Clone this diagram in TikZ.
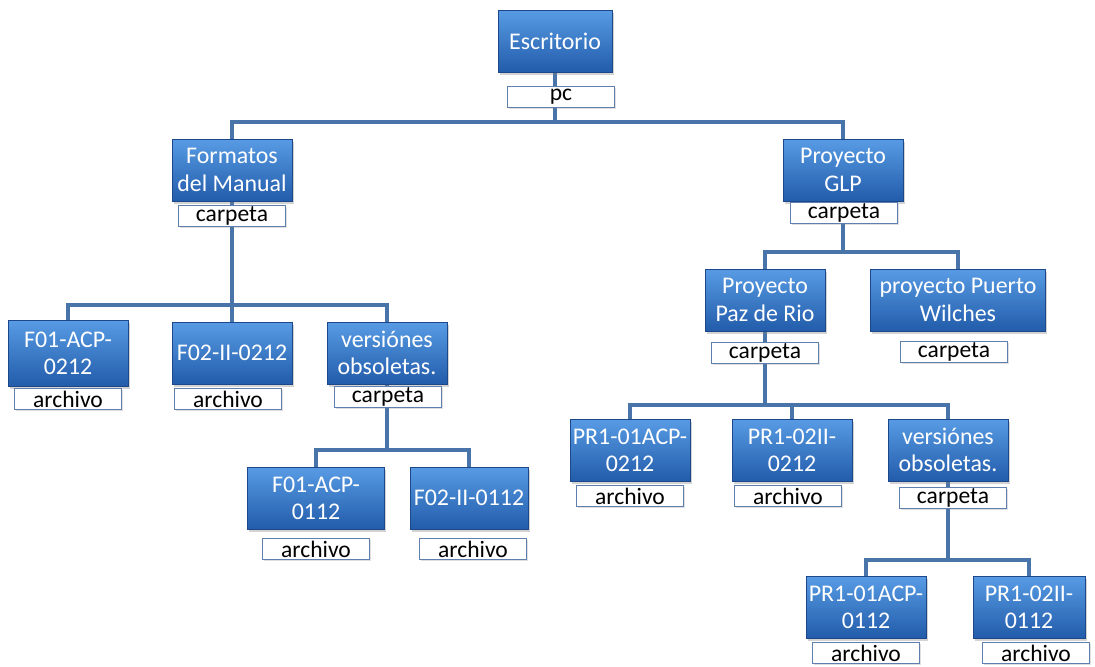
\documentclass[tikz,border=0pt]{standalone}
\usepackage{fontspec}
\setmainfont{Carlito}
\usetikzlibrary{positioning, backgrounds, shadows}
\definecolor{boxtop}{RGB}{88,155,228}
\definecolor{boxbot}{RGB}{34,92,170}
\definecolor{boxedge}{RGB}{28,72,138}
\definecolor{linkblue}{RGB}{72,116,170}
\definecolor{tagedge}{RGB}{95,128,175}

\begin{document}
\begin{tikzpicture}[
  x=0.02cm, y=-0.02cm,
  folder/.style = {
    top color=boxtop, bottom color=boxbot, draw=boxedge, thin,
    minimum width=2.4cm, minimum height=1.24cm, inner sep=1pt,
    align=center, text=white, font=\fontsize{13.6}{15.5}\selectfont,
    drop shadow={opacity=0.35, shadow xshift=1pt, shadow yshift=-1.5pt}
  },
  tag/.style = {
    fill=white, draw=tagedge, semithick,
    minimum width=2.14cm, minimum height=0.42cm, inner sep=0pt,
    font=\fontsize{13.4}{14}\selectfont,
    drop shadow={opacity=0.25, shadow xshift=1pt, shadow yshift=-1pt}
  },
  link/.style = { draw=linkblue, line width=2.3pt }
]
\useasboundingbox (0,0) rectangle (1095,666);

% root
\node[folder, minimum width=2.28cm] (esc) at (555,41) {Escritorio};
\node[tag] (esc-t) at (561,97) {pc};

% left branch
\node[folder] (fmt) at (232,170) {Formatos\\del Manual};
\node[tag] (fmt-t) at (232,216) {carpeta};
\node[folder, minimum height=1.32cm] (f01) at (68,353) {F01-ACP-\\0212};
\node[tag] (f01-t) at (68,399) {archivo};
\node[folder] (f02) at (232,353) {F02-II-0212};
\node[tag] (f02-t) at (228,399) {archivo};
\node[folder] (vol) at (387,353) {versiónes\\obsoletas.};
\node[tag] (vol-t) at (388,397) {carpeta};
\node[folder, minimum width=2.74cm] (f01b) at (316,498) {F01-ACP-\\0112};
\node[tag] (f01b-t) at (316,549) {archivo};
\node[folder, minimum width=2.36cm] (f02b) at (469,498) {F02-II-0112};
\node[tag] (f02b-t) at (473,549) {archivo};

% right branch
\node[folder] (glp) at (843,170) {Proyecto\\GLP};
\node[tag] (glp-t) at (844,213) {carpeta};
\node[folder] (pdr) at (765,300) {Proyecto\\Paz de Rio};
\node[tag] (pdr-t) at (765,353) {carpeta};
\node[folder, minimum width=3.5cm] (pw) at (958,300) {proyecto Puerto\\Wilches};
\node[tag] (pw-t) at (954,352) {carpeta};
\node[folder] (pr1) at (630,450) {PR1-01ACP-\\0212};
\node[tag] (pr1-t) at (630,496) {archivo};
\node[folder] (pr2) at (792,450) {PR1-02II-\\0212};
\node[tag] (pr2-t) at (788,496) {archivo};
\node[folder] (vor) at (948,450) {versiónes\\obsoletas.};
\node[tag] (vor-t) at (953,498) {carpeta};
\node[folder] (pr3) at (866,607) {PR1-01ACP-\\0112};
\node[tag] (pr3-t) at (866,653) {archivo};
\node[folder, minimum width=2.24cm] (pr4) at (1029,607) {PR1-02II-\\0112};
\node[tag] (pr4-t) at (1036,653) {archivo};

% bus heights
\coordinate (b0) at (0,122);
\coordinate (b1) at (0,305);
\coordinate (b2) at (0,450);
\coordinate (b3) at (0,252);
\coordinate (b4) at (0,405);
\coordinate (b5) at (0,560);

\begin{scope}[on background layer]
  \foreach \c in {fmt,glp}
    \draw[link] (esc.south) -- (esc.south |- b0) -| (\c.north);
  \foreach \c in {f01,f02,vol}
    \draw[link] (fmt.south) -- (fmt.south |- b1) -| (\c.north);
  \foreach \c in {f01b,f02b}
    \draw[link] (vol.south) -- (vol.south |- b2) -| (\c.north);
  \foreach \c in {pdr,pw}
    \draw[link] (glp.south) -- (glp.south |- b3) -| (\c.north);
  \foreach \c in {pr1,pr2,vor}
    \draw[link] (pdr.south) -- (pdr.south |- b4) -| (\c.north);
  \foreach \c in {pr3,pr4}
    \draw[link] (vor.south) -- (vor.south |- b5) -| (\c.north);
\end{scope}

\end{tikzpicture}
\end{document}
